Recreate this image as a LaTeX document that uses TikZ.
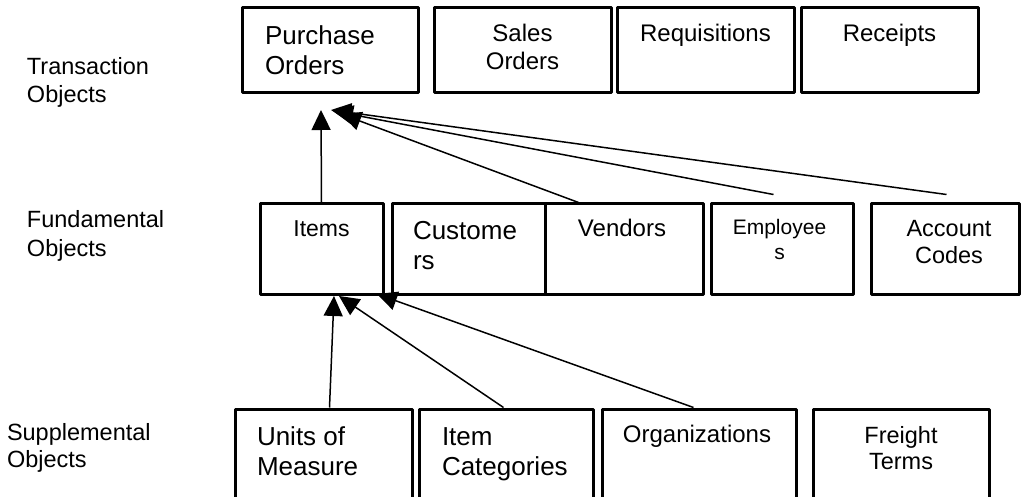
\documentclass[tikz,border=0pt]{standalone}
\usepackage{fontspec}
\setmainfont{Liberation Sans}
\usetikzlibrary{arrows.meta}
\begin{document}
\begin{tikzpicture}[x=1pt,y=-1pt,
  box/.style={draw, line width=3pt, line join=round, rectangle, inner sep=0pt, minimum height=85pt},
  midbox/.style={box, minimum height=91pt},
  lowbox/.style={box, minimum height=111pt},
  txt/.style={inner sep=0pt, outer sep=0pt},
  conn/.style={line width=1.5pt, -{Triangle[length=20pt,width=19pt]}},
  fs/.style n args={2}{font=\fontsize{#1}{#2}\selectfont}
]
\useasboundingbox (0,0) rectangle (1021,497);
\clip (0,0) rectangle (1021,497);

% level labels (multi-line nodes are placed by the baseline of their last line)
\node[txt, fs={23.5}{28}, anchor=base west, align=left] (lt) at (27,103) {Transaction\\Objects};
\node[txt, fs={23.5}{29}, anchor=base west, align=left] (lf) at (27,257) {Fundamental\\Objects};
\node[txt, fs={23.5}{27}, anchor=base west, align=left] (ls) at (7,467) {Supplemental\\Objects};

% transaction objects
\node[box, minimum width=176pt] (po)  at (330,50.5)   {};
\node[box, minimum width=177pt] (so)  at (522.5,50.5) {};
\node[box, minimum width=177pt] (req) at (705.5,50.5) {};
\node[box, minimum width=177pt] (rec) at (889.5,50.5) {};

\node[txt, fs={26}{30}, anchor=base west, align=left] (tpo) at (265,75) {Purchase\\Orders};
\node[txt, fs={24}{28.5}, anchor=base, align=center] (tso) at (522.5,70) {Sales\\Orders};
\node[txt, fs={24}{28}, anchor=base] (treq) at (705.5,42) {Requisitions};
\node[txt, fs={24}{28}, anchor=base] (trec) at (889.5,42) {Receipts};

% fundamental objects
\node[midbox, minimum width=123pt] (items) at (321.5,249.5) {};
\node[midbox, minimum width=153pt] (cust)  at (468.5,249.5) {};
\node[midbox, minimum width=158pt] (vend)  at (624,249.5)   {};
\node[midbox, minimum width=142pt] (emp)   at (782,249.5)   {};
\node[midbox, minimum width=148pt] (acc)   at (945,249.5)   {};

\node[txt, fs={23}{28}, anchor=base] (titems) at (321.5,237) {Items};
\node[txt, fs={26}{30}, anchor=base west, align=left] (tcust) at (413,270) {Custome\\rs};
\node[txt, fs={24}{28}, anchor=base] (tvend) at (622,237) {Vendors};
\node[txt, fs={21}{25}, anchor=base, align=center] (temp) at (779.5,260) {Employee\\s};
\node[txt, fs={23.5}{27}, anchor=base, align=center] (tacc) at (949,264) {Account\\Codes};

% supplemental objects
\node[lowbox, minimum width=177pt] (uom) at (323.5,464.5) {};
\node[lowbox, minimum width=174pt] (ic)  at (506,464.5)   {};
\node[lowbox, minimum width=194pt] (org) at (699,464.5)   {};
\node[lowbox, minimum width=176pt] (fr)  at (901,464.5)   {};

\node[txt, fs={26}{30}, anchor=base west, align=left] (tuom) at (257,475) {Units of\\Measure};
\node[txt, fs={26}{30}, anchor=base west, align=left] (tic) at (442,475) {Item\\Categories};
\node[txt, fs={24}{28}, anchor=base] (torg) at (697,442) {Organizations};
\node[txt, fs={23.5}{26}, anchor=base, align=center] (tfr) at (901,469) {Freight\\Terms};

% arrow tips below the target boxes
\coordinate (poA) at (321,110);
\coordinate (poB) at (341,114);
\coordinate (poC) at (333,111);
\coordinate (poD) at (331,110);
\coordinate (itA) at (334,296);
\coordinate (itB) at (339,296);
\coordinate (itC) at (377,294);

% fundamental -> transaction
\draw[conn] (items.north) -- (poA);
\draw[conn] ([xshift=35pt]vend.north west) -- (poB);
\draw[conn] ([xshift=64pt,yshift=8pt]emp.north west) -- (poC);
\draw[conn] ([xshift=77pt,yshift=8pt]acc.north west) -- (poD);

% supplemental -> fundamental
\draw[conn] ([xshift=96pt]uom.north west) -- (itA);
\draw[conn] ([xshift=86pt]ic.north west) -- (itB);
\draw[conn] ([xshift=93pt]org.north west) -- (itC);
\end{tikzpicture}
\end{document}
